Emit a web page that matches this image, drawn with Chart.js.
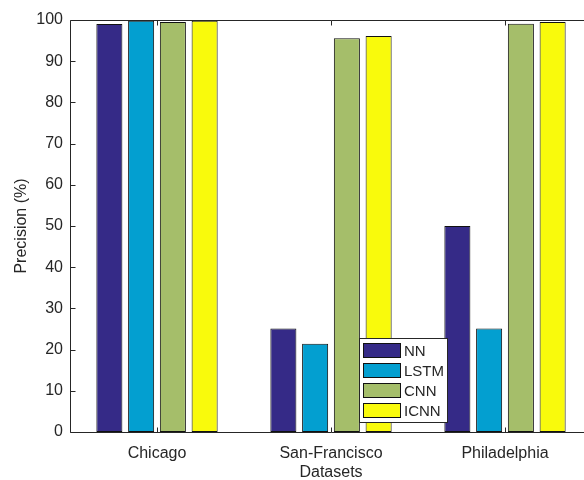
<!DOCTYPE html>
<html>
<head>
<meta charset="utf-8">
<style>
  html, body { margin: 0; padding: 0; background: #fff; overflow: hidden; }
  #wrap { width: 600px; height: 480px; }
</style>
<script src="https://cdn.jsdelivr.net/npm/chart.js@4"></script>
</head>
<body>
<div id="wrap"><canvas id="c" width="600" height="480"></canvas></div>
<script>
// Precision of each model per dataset
const categories = ['Chicago', 'San-Francisco', 'Philadelphia'];
const nnValues   = [99.0, 25.1, 50.0];
const lstmValues = [99.8, 21.4, 25.1];
const cnnValues  = [99.5, 95.6, 99.1];
const icnnValues = [99.8, 96.1, 99.5];
const seriesNames = ['NN', 'LSTM', 'CNN', 'ICNN'];
const yTicks = [0, 10, 20, 30, 40, 50, 60, 70, 80, 90, 100];

const colors = ['#352a87', '#039fd0', '#a5be6a', '#f9fa0c'];
const axisColor = '#262626';
const font = '"Liberation Sans", Arial, sans-serif';

const values = [nnValues, lstmValues, cnnValues, icnnValues];
const datasets = seriesNames.map((name, i) => ({
  label: name,
  data: values[i],
  backgroundColor: colors[i],
  borderColor: '#111111',
  borderWidth: 1,
  borderSkipped: false,
  categoryPercentage: 0.73,
  barPercentage: 0.82
}));

// Axes box, inward ticks, axis titles and boxed legend
const framePlugin = {
  id: 'frame',
  afterDraw(chart) {
    const { ctx, chartArea: a } = chart;
    const xs = chart.scales.x, ys = chart.scales.y;
    ctx.save();
    ctx.strokeStyle = axisColor;
    ctx.lineWidth = 1;
    const L = Math.round(a.left) + 0.5, R = Math.round(a.right) + 0.5;
    const T = Math.round(a.top) + 0.5, B = Math.round(a.bottom) + 0.5;
    ctx.beginPath();
    ctx.rect(L, T, R - L, B - T);
    // y ticks
    yTicks.forEach(v => {
      const y = Math.round(ys.getPixelForValue(v)) + 0.5;
      ctx.moveTo(L, y); ctx.lineTo(L + 5, y);
      ctx.moveTo(R, y); ctx.lineTo(R - 5, y);
    });
    // x ticks
    categories.forEach((c, i) => {
      const x = Math.round(xs.getPixelForValue(i)) + 0.5;
      ctx.moveTo(x, B); ctx.lineTo(x, B - 5);
      ctx.moveTo(x, T); ctx.lineTo(x, T + 5);
    });
    ctx.stroke();

    // axis titles
    ctx.fillStyle = axisColor;
    ctx.font = '16px ' + font;
    ctx.textAlign = 'center';
    ctx.textBaseline = 'middle';
    ctx.fillText('Datasets', (a.left + 592) / 2, 473);
    ctx.save();
    ctx.translate(22, (a.top + a.bottom) / 2);
    ctx.rotate(-Math.PI / 2);
    ctx.fillText('Precision (%)', 0, 0);
    ctx.restore();

    // legend
    const lx = 359.5, ly = 338.5, lw = 88, lh = 84;
    ctx.fillStyle = '#ffffff';
    ctx.fillRect(lx, ly, lw, lh);
    ctx.strokeStyle = '#262626';
    ctx.strokeRect(lx, ly, lw, lh);
    ctx.font = '15px ' + font;
    ctx.textAlign = 'left';
    chart.data.datasets.forEach((ds, i) => {
      const sy = 342.5 + i * 20.3;
      const yy = Math.round(sy) + 0.5;
      ctx.fillStyle = ds.backgroundColor;
      ctx.fillRect(363.5, yy, 37, 14);
      ctx.strokeStyle = '#111111';
      ctx.strokeRect(363.5, yy, 37, 14);
      ctx.fillStyle = axisColor;
      ctx.fillText(ds.label, 404, yy + 8);
    });
    ctx.restore();
  }
};

new Chart(document.getElementById('c'), {
  type: 'bar',
  data: { labels: categories, datasets },
  options: {
    responsive: false,
    animation: false,
    layout: { padding: { top: 20, right: 8, left: 0, bottom: 0 } },
    plugins: { legend: { display: false }, tooltip: { enabled: false } },
    scales: {
      x: {
        grid: { display: false, drawTicks: false },
        border: { display: false },
        ticks: { color: axisColor, font: { size: 16, family: font }, padding: 12, maxRotation: 0 },
        afterFit(s) { s.height = 48; }
      },
      y: {
        min: 0, max: 100,
        afterBuildTicks(s) { s.ticks = yTicks.map(v => ({ value: v })); },
        grid: { display: false, drawTicks: false },
        border: { display: false },
        ticks: { color: axisColor, font: { size: 16, family: font }, padding: 7 },
        afterFit(s) { s.width = 70; }
      }
    }
  },
  plugins: [framePlugin]
});
</script>
</body>
</html>
